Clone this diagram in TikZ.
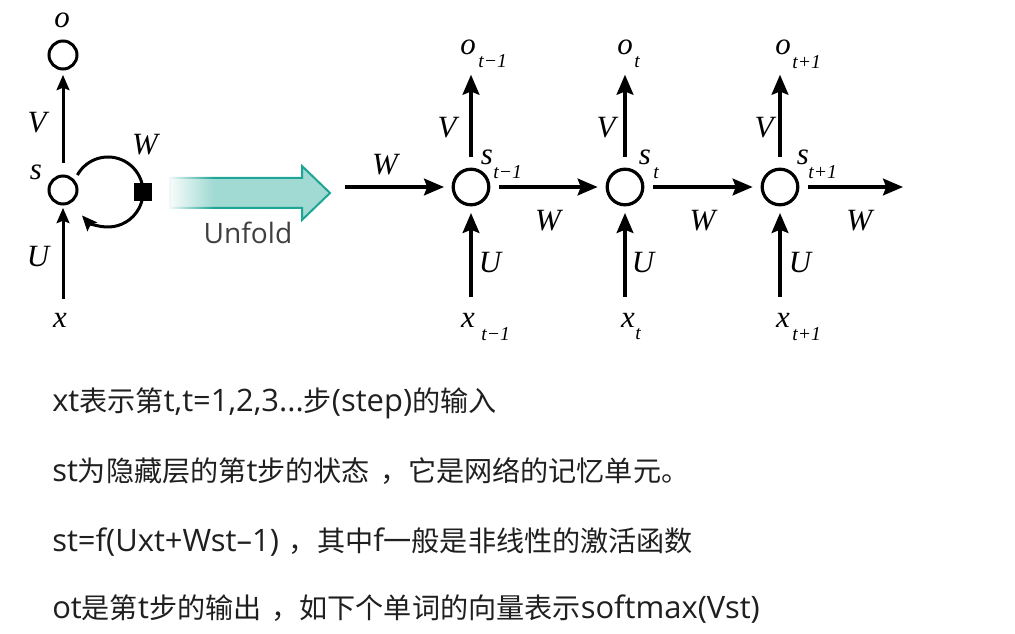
\documentclass[tikz,border=0pt]{standalone}
\usepackage{fontspec}
\setsansfont{Open Sans}
\newfontfamily\cjk{Noto Sans CJK SC}
\newfontfamily\ltnfont{Open Sans}
\newfontfamily\lblfont{Liberation Serif}
\newcommand{\ltn}[1]{{\ltnfont\fontsize{22}{24}\selectfont #1}}
\newcommand{\cma}{\hspace{2.5mm}，}
\usepackage{tikz}
\usetikzlibrary{arrows.meta}
\usetikzlibrary{fadings}

\definecolor{unfoldline}{RGB}{29,165,150}
\definecolor{unfoldfill}{RGB}{160,218,211}
\tikzfading[name=fadeoutright, left color=transparent!0, right color=transparent!100]

\tikzset{
    cell/.style={circle, draw, line width=0.8mm, minimum size=8.9mm, inner sep=0pt},
    cellsmall/.style={circle, draw, line width=0.75mm, minimum size=7mm, inner sep=0pt},
    link/.style={line width=0.8mm, -{Stealth[length=5mm, width=4.2mm, inset=0.8mm]}},
    linksmall/.style={line width=0.75mm, -{Stealth[length=3.8mm, width=3.2mm, inset=0.6mm]}},
    var/.style={font=\lblfont\fontsize{22}{24}\selectfont\itshape, inner sep=0pt},
    idx/.style={font=\lblfont\fontsize{14}{16}\selectfont\itshape, inner sep=0pt, anchor=west},
    note/.style={font=\cjk\fontsize{20}{24}\selectfont, anchor=west, inner sep=0pt, text=black!88},
}

\begin{document}
\begin{tikzpicture}[x=0.25mm, y=-0.25mm]
        \useasboundingbox (0,0) rectangle (1015,634);

        % folded network
        \node[cellsmall] (o) at (63,55) {};
        \node[cellsmall] (s) at (63,190) {};
        \node[var] (olbl) at (62,20) {o};
        \node[var] (slbl) at (36,172) {s};
        \node[var] (x) at (60,320) {x};
        \node[var] (V) at (37,123) {V};
        \node[var] (U) at (38,257) {U};
        \node[var] (W) at (145,145) {W};
        \draw[linksmall, shorten <=2.9mm, shorten >=1.1mm] (s) -- (o);
        \draw[linksmall, shorten <=3.5mm, shorten >=0.6mm] (s |- x.north) -- (s);
        \coordinate (loopc) at (108,192);
        \draw[linksmall] (loopc) ++(-151:35) arc[start angle=-151, end angle=138, radius=35];
        \node[fill, minimum size=4.3mm, inner sep=0pt] (sq) at (143,192) {};

        % unfold arrow
        \draw[draw=unfoldline, fill=unfoldfill, line width=0.5mm, line join=miter]
            (170,178) -- (302,178) -- (302,166) -- (330,193) -- (302,220) -- (302,208) -- (170,208) -- cycle;
        \fill[white, path fading=fadeoutright] (166,160) rectangle (214,226);
        \node[font=\sffamily\fontsize{20}{24}\selectfont, text=black!75, inner sep=0pt] (unfold) at (248,233) {Unfold};

        % unfolded network
        \node[cell] (s1) at (471,187) {};
        \node[cell] (s2) at (625,187) {};
        \node[cell] (s3) at (780,187) {};

        \node[var] (o1) at (468,47) {o};
        \node[idx] (o1t) at (478,61) {t−1};
        \node[var] (o2) at (625,47) {o};
        \node[idx] (o2t) at (634,62) {t};
        \node[var] (o3) at (783,47) {o};
        \node[idx] (o3t) at (792,62) {t+1};

        \node[var] (s1l) at (487,157) {s};
        \node[idx] (s1t) at (493,172) {t−1};
        \node[var] (s2l) at (645,157) {s};
        \node[idx] (s2t) at (653,173) {t};
        \node[var] (s3l) at (803,157) {s};
        \node[idx] (s3t) at (808,172) {t+1};

        \node[var] (x1) at (468,320) {x};
        \node[idx] (x1t) at (481,334) {t−1};
        \node[var] (x2) at (628,320) {x};
        \node[idx] (x2t) at (635,334) {t};
        \node[var] (x3) at (783,320) {x};
        \node[idx] (x3t) at (792,334) {t+1};

        \node[var] (V1) at (447,128) {V};
        \node[var] (V2) at (606,128) {V};
        \node[var] (V3) at (764,128) {V};
        \node[var] (U1) at (490,263) {U};
        \node[var] (U2) at (643,263) {U};
        \node[var] (U3) at (800,263) {U};
        \node[var] (W0) at (385,165) {W};

        \coordinate (win) at (345,187);
        \coordinate (wout) at (903,187);
        \draw[link, shorten >=1.9mm] (win) -- (s1);
        \draw[link, shorten <=2.25mm, shorten >=2mm] (s1) -- node[var, below=5.5mm] (W1) {W} (s2);
        \draw[link, shorten <=2.25mm, shorten >=2mm] (s2) -- node[var, below=5.5mm] (W2) {W} (s3);
        \draw[link, shorten <=2.25mm] (s3) -- node[var, below=5.5mm, xshift=2mm] (W3) {W} (wout);

        \draw[link, shorten <=2.65mm, shorten >=5mm] (s1) -- (s1 |- o1.south);
        \draw[link, shorten <=2.65mm, shorten >=5mm] (s2) -- (s2 |- o2.south);
        \draw[link, shorten <=2.65mm, shorten >=5mm] (s3) -- (s3 |- o3.south);
        \draw[link, shorten <=4mm, shorten >=1.65mm] (s1 |- x1.north) -- (s1);
        \draw[link, shorten <=4mm, shorten >=1.65mm] (s2 |- x2.north) -- (s2);
        \draw[link, shorten <=4mm, shorten >=1.65mm] (s3 |- x3.north) -- (s3);

        % notes
        \node[note] (l1) at (52,403) {\ltn{xt}表示第\ltn{t,t=1,2,3...}步\ltn{(step)}的输入};
        \node[note] (l2) at (52,471) {\ltn{st}为隐藏层的第\ltn{t}步的状态\cma 它是网络的记忆单元。};
        \node[note] (l3) at (52,542) {\ltn{st=f(Uxt+Wst–1)}\cma 其中\ltn{f}一般是非线性的激活函数};
        \node[note] (l4) at (52,609) {\ltn{ot}是第\ltn{t}步的输出\cma 如下个单词的向量表示\ltn{softmax(Vst)}};
\end{tikzpicture}
\end{document}
